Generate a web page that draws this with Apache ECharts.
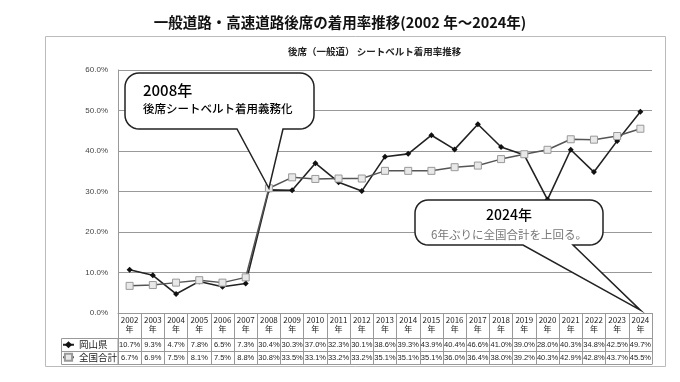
<!DOCTYPE html>
<html><head><meta charset="utf-8">
<script src="https://cdn.jsdelivr.net/npm/echarts@6/dist/echarts.min.js"></script>
<style>html,body{margin:0;padding:0;background:#fff}#c{width:680px;height:382px}</style>
</head><body><div id="c"></div>
<script>
const years = ['2002','2003','2004','2005','2006','2007','2008','2009','2010','2011','2012','2013','2014','2015','2016','2017','2018','2019','2020','2021','2022','2023','2024'];
const okayama = [10.7,9.3,4.7,7.8,6.5,7.3,30.4,30.3,37.0,32.3,30.1,38.6,39.3,43.9,40.4,46.6,41.0,39.0,28.0,40.3,34.8,42.5,49.7];
const national = [6.7,6.9,7.5,8.1,7.5,8.8,30.8,33.5,33.1,33.2,33.2,35.1,35.1,35.1,36.0,36.4,38.0,39.2,40.3,42.9,42.8,43.7,45.5];
const seriesNames = ['岡山県','全国合計'];
const yTicks = [0,10,20,30,40,50,60];

const JP = '"Noto Sans CJK JP","Noto Sans",sans-serif';
const NUM = '"Liberation Sans Narrow","Liberation Sans",Arial,sans-serif';
const fmt = v => v.toFixed(1) + '%';

const chart = echarts.init(document.getElementById('c'), null, {renderer:'canvas'});
const tableAxis = (offset, labels) => ({
  type:'category', data: years, position:'bottom', offset: offset, gridIndex:0,
  axisLine:{show:true, lineStyle:{color:'#999', width:1}},
  axisTick:{show:false}, splitLine:{show:false},
  axisLabel: labels ? {show:true, interval:0, margin:3, fontSize:7.5, color:'#222', fontFamily:NUM,
    formatter:(v,i)=>fmt(labels[i])} : {show:false}
});

chart.setOption({
  animation:false,
  title:[
    {text:'一般道路・高速道路後席の着用率推移(2002 年～2024年)', left:'center', top:10,
     textStyle:{fontFamily:JP, fontSize:14.5, fontWeight:'bold', color:'#111'}},
    {text:'後席（一般道） シートベルト着用率推移', left:283, top:42,
     textStyle:{fontFamily:JP, fontSize:9.5, fontWeight:'bold', color:'#222'}}
  ],
  legend:{orient:'vertical', left:62, top:340, itemGap:3, itemWidth:11, itemHeight:9, padding:0,
    textStyle:{fontFamily:JP, fontSize:9.5, color:'#222'}, data:seriesNames},
  grid:{left:118, right:28, top:70, bottom:69, containLabel:false},
  xAxis:[
    {type:'category', data:years, position:'bottom', boundaryGap:true,
     axisLine:{show:true, lineStyle:{color:'#999', width:1}},
     axisTick:{show:true, interval:0, length:51, lineStyle:{color:'#999'}},
     axisLabel:{show:true, interval:0, margin:2, fontSize:8, lineHeight:9.5, color:'#222', fontFamily:JP,
       formatter:v=>v+'\n年'}},
    tableAxis(25, okayama),
    tableAxis(38, national),
    tableAxis(51, null)
  ],
  yAxis:{type:'value', min:yTicks[0], max:yTicks[yTicks.length-1], interval:10,
    axisLine:{show:true, lineStyle:{color:'#999'}}, axisTick:{show:false},
    splitLine:{show:true, lineStyle:{color:'#999', width:1}},
    axisLabel:{formatter:v=>fmt(v), fontSize:8, color:'#444', margin:10, fontFamily:NUM}},
  series:[
    {name:seriesNames[0], type:'line', data:okayama, symbol:'diamond', symbolSize:6,
     lineStyle:{color:'#222', width:1.6}, itemStyle:{color:'#111'}},
    {name:seriesNames[1], type:'line', data:national, symbol:'rect', symbolSize:7,
     lineStyle:{color:'#555', width:1.5}, itemStyle:{color:'#e8e8e8', borderColor:'#999', borderWidth:1}}
  ]
});

function arcPts(cx, cy, r, a0, a1, out){
  const n = 8;
  for (let i = 0; i <= n; i++){
    const a = a0 + (a1 - a0) * i / n;
    out.push([cx + r*Math.cos(a), cy + r*Math.sin(a)]);
  }
}
function calloutPoints(x1,y1,x2,y2,r,bx1,bx2,tx,ty){
  const P = [], PI = Math.PI;
  arcPts(x1+r, y1+r, r, PI, 1.5*PI, P);
  arcPts(x2-r, y1+r, r, 1.5*PI, 2*PI, P);
  arcPts(x2-r, y2-r, r, 0, 0.5*PI, P);
  P.push([bx2, y2], [tx, ty], [bx1, y2]);
  arcPts(x1+r, y2-r, r, 0.5*PI, PI, P);
  return P;
}
const tip1 = chart.convertToPixel({xAxisIndex:0, yAxisIndex:0}, [years[6], national[6]]);
const tip2 = chart.convertToPixel({xAxisIndex:0, yAxisIndex:0}, [years[22], 0.7]);

chart.setOption({
  graphic:[
    {type:'rect', shape:{x:45.5, y:36.5, width:620, height:330}, style:{fill:'none', stroke:'#bbb', lineWidth:1}, z:-1},
    {type:'rect', shape:{x:61.5, y:338.5, width:56.5, height:26}, style:{fill:'none', stroke:'#999', lineWidth:1}},
    {type:'line', shape:{x1:61.5, y1:351.5, x2:118, y2:351.5}, style:{stroke:'#999', lineWidth:1}},
    {type:'polygon', shape:{points:calloutPoints(125,73,314,129,14,237,283,tip1[0],tip1[1])},
     style:{fill:'#fff', stroke:'#222', lineWidth:1.5}, z:100},
    {type:'text', x:143, y:83, style:{text:'2008年', font:'500 15px '+JP, fill:'#000'}, z:101},
    {type:'text', x:143, y:103, style:{text:'後席シートベルト着用義務化', font:'500 11.5px '+JP, fill:'#000'}, z:101},
    {type:'polygon', shape:{points:calloutPoints(415,200,603,245,13,523,573,tip2[0],tip2[1])},
     style:{fill:'#fff', stroke:'#222', lineWidth:1.5}, z:100},
    {type:'text', x:509, y:215, style:{text:'2024年', font:'500 14px '+JP, fill:'#000', align:'center', verticalAlign:'middle'}, z:101},
    {type:'text', x:509, y:235, style:{text:'6年ぶりに全国合計を上回る。', font:'11.5px '+JP, fill:'#777', align:'center', verticalAlign:'middle'}, z:101}
  ]
});
</script></body></html>
